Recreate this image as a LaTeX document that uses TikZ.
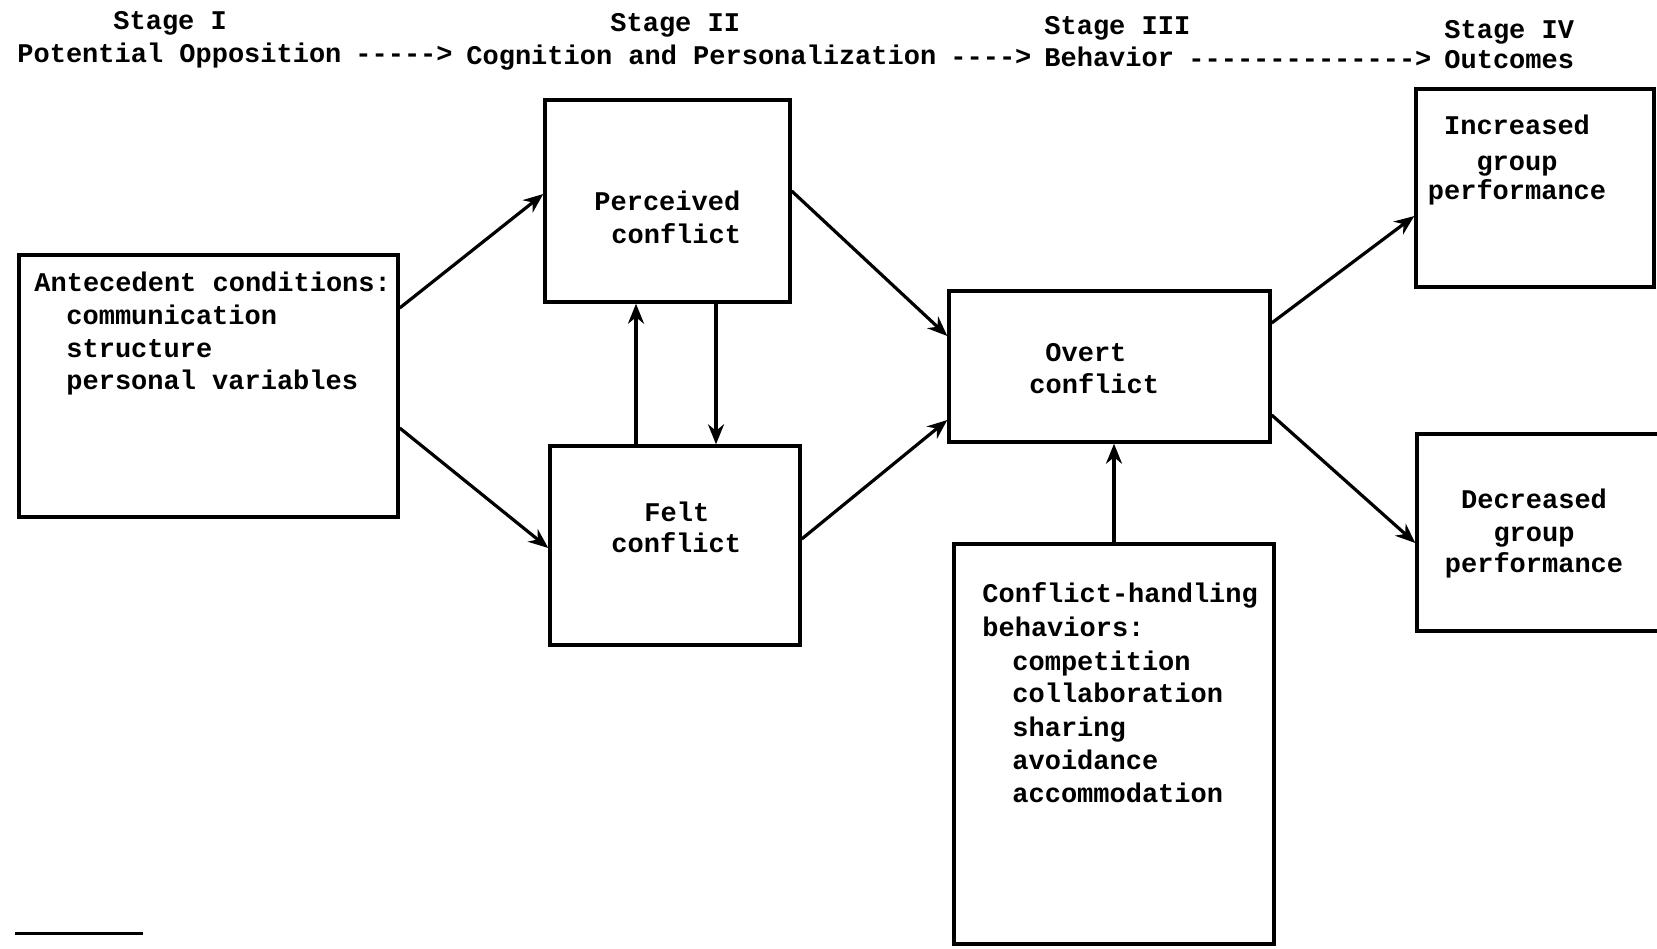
\documentclass[tikz,border=0pt]{standalone}
\usepackage{fontspec}
\setmonofont{Liberation Mono}
\usetikzlibrary{arrows.meta,calc}
\begin{document}
\begin{tikzpicture}[x=0.5pt,y=-0.5pt,
  box/.style={draw, line width=1.7pt, inner sep=0pt, rectangle},
  txt/.style={font=\ttfamily\fontsize{13.5pt}{16.5pt}\selectfont\bfseries, inner sep=0pt, anchor=base west},
  ctxt/.style={txt, anchor=base},
  arr/.style={line width=1.6pt, -{Stealth[length=10pt,width=8pt]}}]
\fill[white] (0,0) rectangle (1657,948);
\useasboundingbox (0,0) rectangle (1657,948);
\clip (0,0) rectangle (1657,948);

% header
\node[txt] (s1) at (113,29) {Stage I};
\node[txt] (s2) at (610,31) {Stage II};
\node[txt] (s3) at (1044,34) {Stage III};
\node[txt] (s4) at (1444,38) {Stage IV};
\node[txt] (h1) at (17,62) {Potential Opposition};
\node[txt] (a1) at (355,62) {----->};
\node[txt] (h2) at (466,64) {Cognition and Personalization};
\node[txt] (a2) at (950,65) {---->};
\node[txt] (h3) at (1044,66) {Behavior};
\node[txt] (a3) at (1188,67) {-------------->};
\node[txt] (h4) at (1444,68) {Outcomes};

% boxes
\node[box, minimum width={379*0.5pt}, minimum height={262*0.5pt}] (ante) at (208.5,386) {};
\node[box, minimum width={245*0.5pt}, minimum height={202*0.5pt}] (perc) at (667.5,201) {};
\node[box, minimum width={250*0.5pt}, minimum height={199*0.5pt}] (felt) at (675,545.5) {};
\node[box, minimum width={321*0.5pt}, minimum height={151*0.5pt}] (overt) at (1109.5,366.5) {};
\node[box, minimum width={320*0.5pt}, minimum height={400*0.5pt}] (handle) at (1114,744) {};
\node[box, minimum width={238*0.5pt}, minimum height={198*0.5pt}] (inc) at (1535,188) {};
\node[box, minimum width={245*0.5pt}, minimum height={197*0.5pt}] (dec) at (1539.5,532.5) {};

% box texts
\node[txt] (ante1) at (34,291) {Antecedent conditions:};
\node[txt] (ante2) at (66,324) {communication};
\node[txt] (ante3) at (66,357) {structure};
\node[txt] (ante4) at (66,389) {personal variables};

\node[txt] (perc1) at (594,210) {Perceived};
\node[txt] (perc2) at (611,243) {conflict};

\node[txt] (felt1) at (644,521) {Felt};
\node[txt] (felt2) at (611,552) {conflict};

\node[txt] (overt1) at (1045,361) {Overt};
\node[txt] (overt2) at (1029,393) {conflict};

\node[txt] (hd1) at (982,602) {Conflict-handling};
\node[txt] (hd2) at (982,636) {behaviors:};
\node[txt] (hd3) at (1012,670) {competition};
\node[txt] (hd4) at (1012,702) {collaboration};
\node[txt] (hd5) at (1012,736) {sharing};
\node[txt] (hd6) at (1012,769) {avoidance};
\node[txt] (hd7) at (1012,802) {accommodation};

\node[ctxt] (inc1) at (1517,134) {Increased};
\node[ctxt] (inc2) at (1517,170) {group};
\node[ctxt] (inc3) at (1517,199) {performance};

\node[ctxt] (dec1) at (1534,508) {Decreased};
\node[ctxt] (dec2) at (1534,541) {group};
\node[ctxt] (dec3) at (1534,572) {performance};

% arrows
\draw[arr] ($(ante.east)+(0,-78)$) -- ($(perc.west)+(0,-7)$);
\draw[arr] ($(ante.east)+(0,42)$) -- ($(felt.west)+(0,2.5)$);
\draw[arr] ($(perc.east)+(0,-10)$) -- ($(overt.west)+(0,-30.5)$);
\draw[arr] ($(felt.east)+(0,-6.5)$) -- ($(overt.west)+(0,53.5)$);
\draw[arr] ($(felt.north)+(-39,0)$) -- ($(perc.south)+(-31.5,0)$);
\draw[arr] ($(perc.south)+(48.5,0)$) -- ($(felt.north)+(41,0)$);
\draw[arr] ($(handle.north)+(0,0)$) -- ($(overt.south)+(4.5,0)$);
\draw[arr] ($(overt.east)+(0,-43.5)$) -- ($(inc.west)+(0,28)$);
\draw[arr] ($(overt.east)+(0,48.5)$) -- ($(dec.west)+(0,10.5)$);

% footnote rule
\coordinate (fn1) at (15,933);
\coordinate (fn2) at (143,933);
\draw[line width=1.5pt] (fn1) -- (fn2);
\end{tikzpicture}
\end{document}
